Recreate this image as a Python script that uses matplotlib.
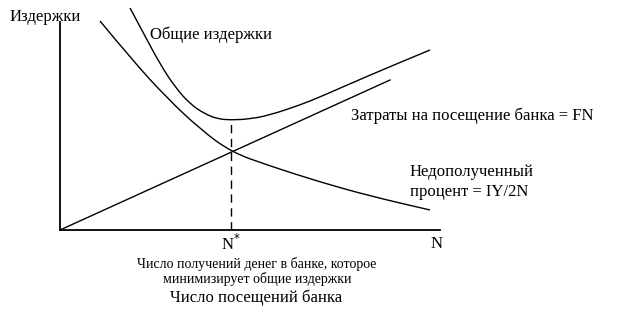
import matplotlib
matplotlib.use('Agg')
import matplotlib.pyplot as plt
from matplotlib.path import Path
from matplotlib.patches import PathPatch

plt.rcParams['font.family'] = ['Liberation Serif', 'DejaVu Serif']

# visits to the bank (horizontal) and costs (vertical)
n_fn = [0, 330]
cost_fn = [0, 150]

n_iy = [40, 73, 107, 140, 171, 210, 260, 310, 370]
cost_iy = [209, 169, 132, 101, 78, 64, 48, 34, 20]

n_total = [70, 85, 100, 115, 130, 145, 158, 171, 190, 210, 240, 260, 310, 370]
cost_total = [222, 194, 166, 143, 126, 116, 111, 110, 111, 115, 125, 133, 155, 180]

n_star = 171
cost_min = 110


def smooth(ax, xs, ys):
    # quadratic segments through the midpoints, so the corners get rounded
    verts = [(xs[0], ys[0])]
    codes = [Path.MOVETO]
    for i in range(1, len(xs) - 1):
        verts.append((xs[i], ys[i]))
        verts.append(((xs[i] + xs[i + 1]) / 2, (ys[i] + ys[i + 1]) / 2))
        codes += [Path.CURVE3, Path.CURVE3]
    verts.append((xs[-1], ys[-1]))
    codes.append(Path.LINETO)
    ax.add_patch(PathPatch(Path(verts, codes), fill=False, lw=1, ec='k', clip_on=False))


fig = plt.figure(figsize=(6.4, 3.2), dpi=100)
ax = fig.add_axes([60/640, 90/320, 380/640, 208/320])
ax.set_xlim(0, 380)
ax.set_ylim(0, 208)
for s in ['top', 'right']:
    ax.spines[s].set_visible(False)
ax.spines['left'].set_linewidth(1.3)
ax.spines['bottom'].set_linewidth(1.3)
ax.set_xticks([])
ax.set_yticks([])

ax.plot(n_fn, cost_fn, 'k-', lw=1, clip_on=False)
smooth(ax, n_iy, cost_iy)
smooth(ax, n_total, cost_total)
ax.plot([n_star, n_star], [0, cost_min], 'k', lw=1, dashes=(6, 4))

ax.text(-50, 213, 'Издержки', fontsize=12, va='center', ha='left')
ax.text(90, 195, 'Общие издержки', fontsize=12, va='center', ha='left')
ax.text(291, 114, 'Затраты на посещение банка = FN', fontsize=12, va='center', ha='left')
ax.text(350, 58, 'Недополученный', fontsize=12, va='center', ha='left')
ax.text(350, 38, 'процент = IY/2N', fontsize=12, va='center', ha='left')
ax.text(377, -14, 'N', fontsize=12, va='center', ha='center')
ax.text(n_star, -14, r'N$^{*}$', fontsize=12, va='center', ha='center')
ax.text(n_star + 26, -34, 'Число получений денег в банке, которое', fontsize=10, va='center', ha='center')
ax.text(n_star + 26, -49, 'минимизирует общие издержки', fontsize=10, va='center', ha='center')
ax.text(n_star + 25, -68, 'Число посещений банка', fontsize=12, va='center', ha='center')

fig.savefig('out.png', dpi=100)
